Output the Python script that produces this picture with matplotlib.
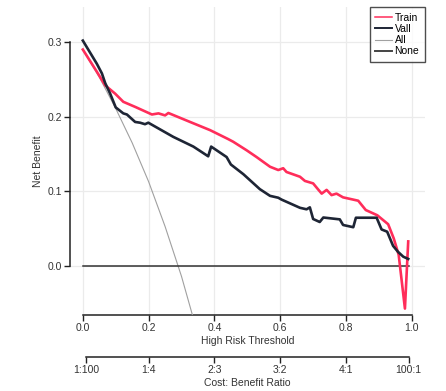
import matplotlib
matplotlib.use('Agg')
import matplotlib.pyplot as plt
from matplotlib.lines import Line2D

plt.rcParams['font.family'] = ['Liberation Sans', 'DejaVu Sans']
plt.rcParams['font.size'] = 7.5

# thresholds / net benefit
train_t = [0.000, 0.043, 0.068, 0.098, 0.123, 0.160, 0.210, 0.230, 0.250, 0.260,
           0.326, 0.387, 0.442, 0.457, 0.498, 0.528, 0.569, 0.594, 0.609, 0.619,
           0.660, 0.675, 0.700, 0.715, 0.726, 0.741, 0.756, 0.771, 0.791, 0.837,
           0.860, 0.895, 0.928, 0.945, 0.960, 0.979, 0.989]
train_nb = [0.290, 0.260, 0.242, 0.231, 0.220, 0.213, 0.203, 0.2045, 0.2018, 0.205,
            0.193, 0.182, 0.170, 0.1665, 0.155, 0.146, 0.133, 0.1286, 0.131, 0.126,
            0.1196, 0.114, 0.1107, 0.1027, 0.097, 0.102, 0.095, 0.097, 0.092, 0.0875,
            0.075, 0.068, 0.056, 0.037, 0.015, -0.057, 0.033]

vall_t = [0.000, 0.0425, 0.058, 0.068, 0.083, 0.100, 0.123, 0.134, 0.159, 0.174,
          0.189, 0.199, 0.275, 0.336, 0.381, 0.390, 0.437, 0.450, 0.488, 0.518,
          0.538, 0.569, 0.594, 0.604, 0.660, 0.680, 0.690, 0.700, 0.720, 0.731,
          0.781, 0.791, 0.822, 0.830, 0.893, 0.908, 0.925, 0.943, 0.958, 0.974, 0.989]
vall_nb = [0.302, 0.271, 0.258, 0.245, 0.231, 0.2125, 0.2045, 0.203, 0.193, 0.192,
           0.190, 0.192, 0.173, 0.160, 0.147, 0.160, 0.146, 0.136, 0.123, 0.111,
           0.103, 0.094, 0.0915, 0.089, 0.078, 0.076, 0.0786, 0.063, 0.059, 0.065,
           0.0625, 0.055, 0.052, 0.0647, 0.0647, 0.049, 0.046, 0.027, 0.019, 0.0125, 0.0095]

all_t = [0.0, 0.05, 0.10, 0.15, 0.20, 0.25, 0.30, 0.35]
all_nb = [0.290, 0.253, 0.211, 0.165, 0.113, 0.053, -0.014, -0.092]

none_t = [0.0, 0.99]
none_nb = [0.0, 0.0]

x_ticks = [0.0, 0.2, 0.4, 0.6, 0.8, 1.0]
y_ticks = [0.0, 0.1, 0.2, 0.3]
ratio_ticks = [0.01, 0.2, 0.4, 0.6, 0.8, 0.99]
ratio_labels = ['1:100', '1:4', '2:3', '3:2', '4:1', '100:1']

c_train, c_vall, c_all, c_none = '#FF2D5A', '#1E2535', '#A0A0A0', '#333333'

W, H = 446, 391
fig = plt.figure(figsize=(W / 100, H / 100), dpi=100)
ax = fig.add_axes([70 / W, 1 - 315 / H, 355 / W, 308 / H])

ax.plot(train_t, train_nb, color=c_train, lw=1.9, zorder=4)
ax.plot(vall_t, vall_nb, color=c_vall, lw=1.9, zorder=5)
ax.plot(all_t, all_nb, color=c_all, lw=0.8, zorder=3)
ax.plot(none_t, none_nb, color=c_none, lw=1.1, zorder=3)

ax.set_xlim(-0.039, 1.04)
ax.set_ylim(-0.0656, 0.347)
ax.set_xticks(x_ticks)
ax.set_yticks(y_ticks)
ax.set_xticklabels(['0.0', '0.2', '0.4', '0.6', '0.8', '1.0'])
ax.set_yticklabels(['0.0', '0.1', '0.2', '0.3'])
ax.grid(True, color='#EBEBEB', lw=0.9)
ax.set_axisbelow(True)
for s in ['top', 'right']:
    ax.spines[s].set_visible(False)
ax.spines['left'].set_bounds(0, 0.3)
ax.spines['bottom'].set_bounds(0, 1)
for s in ['left', 'bottom']:
    ax.spines[s].set_linewidth(1.1)
    ax.spines[s].set_color('#222222')
ax.tick_params(length=4, width=1, color='#222222', labelcolor='#333333', pad=2)
ax.set_xlabel('High Risk Threshold', color='#333333', labelpad=2)
ax.set_ylabel('Net Benefit', color='#333333', labelpad=3)

handles = [Line2D([], [], color=c_train, lw=1.1),
           Line2D([], [], color=c_vall, lw=1.4),
           Line2D([], [], color=c_all, lw=0.8),
           Line2D([], [], color='#444444', lw=1.4)]
leg = ax.legend(handles, ['Train', 'Vall', 'All', 'None'], loc='upper right',
                borderaxespad=0, fancybox=False, edgecolor='#222222',
                handlelength=1.6, labelspacing=0.12, handletextpad=0.25,
                borderpad=0.55, fontsize=7.5)
leg.get_frame().set_linewidth(1.0)

# cost:benefit ratio axis
ax2 = fig.add_axes([70 / W, 1 - 357 / H, 355 / W, 0.001])
ax2.set_xlim(ax.get_xlim())
ax2.patch.set_visible(False)
ax2.set_yticks([])
for s in ['top', 'right', 'left']:
    ax2.spines[s].set_visible(False)
ax2.spines['bottom'].set_bounds(0.01, 0.99)
ax2.spines['bottom'].set_linewidth(1.1)
ax2.spines['bottom'].set_color('#222222')
ax2.set_xticks(ratio_ticks)
ax2.set_xticklabels(ratio_labels)
ax2.tick_params(length=4, width=1, color='#222222', labelcolor='#333333', pad=2)
ax2.set_xlabel('Cost: Benefit Ratio', color='#333333', labelpad=2)

fig.savefig('out.png', dpi=100)
